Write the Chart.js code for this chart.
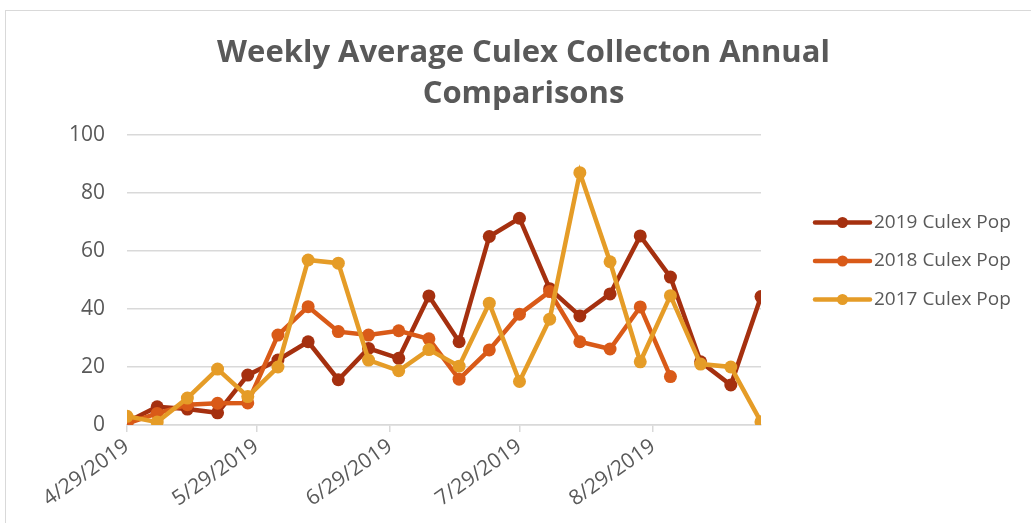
<!DOCTYPE html>
<html>
<head>
<meta charset="utf-8">
<script src="https://cdn.jsdelivr.net/npm/chart.js@4.4.1/dist/chart.umd.min.js"></script>
<style>
  html, body { margin: 0; padding: 0; background: #fff; }
  #wrap { position: relative; width: 1031px; height: 523px; overflow: hidden; }
  #frame { position: absolute; left: 5px; top: 10px; width: 1100px; height: 600px; border: 1px solid #d9d9d9; }
  #myChart { position: absolute; left: 0; top: 0; }
</style>
</head>
<body>
<div id="wrap">
  <div id="frame"></div>
  <canvas id="myChart" width="1031" height="523"></canvas>
</div>
<script>
// semaines de collecte (lundi)
const semaines = ['2019-04-29', '2019-05-06', '2019-05-13', '2019-05-20', '2019-05-27', '2019-06-03',
  '2019-06-10', '2019-06-17', '2019-06-24', '2019-07-01', '2019-07-08', '2019-07-15',
  '2019-07-22', '2019-07-29', '2019-08-05', '2019-08-12', '2019-08-19', '2019-08-26',
  '2019-09-02', '2019-09-09', '2019-09-16', '2019-09-23'];

const pop2019 = [1, 6.3, 5.5, 4.2, 17.2, 22.4, 28.7, 15.6, 26.4, 23, 44.5, 28.7,
  65, 71.3, 47, 37.6, 45.2, 65.2, 51, 21.8, 13.8, 44.3];
const pop2018 = [0.5, 4, 7, 7.5, 7.6, 31, 40.8, 32.2, 31, 32.5, 29.7, 15.8,
  25.9, 38.2, 46, 28.7, 26.2, 40.7, 16.7, null, null, null];
const pop2017 = [3, 1, 9.3, 19.3, 9.8, 20, 56.9, 55.8, 22.4, 18.7, 26, 20.3,
  42, 15, 36.5, 87, 56.3, 21.8, 44.6, 21, 20, 1.1];

const series = ['2019 Culex Pop', '2018 Culex Pop', '2017 Culex Pop'];
const couleurs = ['#a5300f', '#d95a18', '#e59c27'];
const titre = ['Weekly Average Culex Collecton Annual', 'Comparisons'];

// graduations de l'axe des dates
const datesTicks = ['2019-04-29', '2019-05-29', '2019-06-29', '2019-07-29', '2019-08-29'];
const ticksY = [0, 20, 40, 60, 80, 100];

const texte = '#595959';
const grille = '#d9d9d9';
const police = "'Open Sans', sans-serif";

// jours depuis la premiere semaine
function jour(s) {
    const [a, m, j] = s.split('-').map(Number);
    const [a0, m0, j0] = semaines[0].split('-').map(Number);
    return (Date.UTC(a, m - 1, j) - Date.UTC(a0, m0 - 1, j0)) / 864e5;
}

function etiquetteDate(v) {
    const [a0, m0, j0] = semaines[0].split('-').map(Number);
    const d = new Date(Date.UTC(a0, m0 - 1, j0 + v));
    return `${d.getUTCMonth() + 1}/${d.getUTCDate()}/${d.getUTCFullYear()}`;
}

function points(valeurs) {
    return semaines.map((s, i) => ({ x: jour(s), y: valeurs[i] }));
}

// titre + légende dessinés à la main (position comme dans Excel)
const habillageExcel = {
    id: 'habillageExcel',
    afterDraw(chart) {
        const ctx = chart.ctx;
        const zone = chart.chartArea;
        ctx.save();

        // titre
        ctx.fillStyle = texte;
        ctx.font = `bold 31px ${police}`;
        ctx.textAlign = 'center';
        ctx.textBaseline = 'alphabetic';
        titre.forEach((ligne, i) => ctx.fillText(ligne, chart.width / 2 + 8, 62 + i * 41));

        // légende
        const x0 = zone.right + 54;
        const pas = 38.5;
        const yMilieu = (zone.top + zone.bottom) / 2 - 19;
        chart.data.datasets.forEach((ds, i) => {
            const y = yMilieu + (i - 1) * pas;
            ctx.strokeStyle = ds.borderColor;
            ctx.lineWidth = 4.5;
            ctx.lineCap = 'round';
            ctx.beginPath();
            ctx.moveTo(x0, y);
            ctx.lineTo(x0 + 55, y);
            ctx.stroke();
            ctx.fillStyle = ds.borderColor;
            ctx.beginPath();
            ctx.arc(x0 + 27.5, y, 5.5, 0, Math.PI * 2);
            ctx.fill();
            ctx.fillStyle = texte;
            ctx.font = `19px ${police}`;
            ctx.textBaseline = 'middle';
            ctx.textAlign = 'left';
            ctx.fillText(ds.label, x0 + 59, y);
        });
        ctx.restore();
    }
};

function creerDataset(i, valeurs) {
    return {
        label: series[i],
        data: points(valeurs),
        borderColor: couleurs[i],
        backgroundColor: couleurs[i],
        borderWidth: 4.5,
        pointRadius: 6.5,
        pointHoverRadius: 6.5,
        pointBorderWidth: 0,
        tension: 0,
        spanGaps: false,
        order: 2 - i
    };
}

const graph = document.getElementById('myChart');
const myChart = new Chart(graph, {
    type: 'line',
    data: {
        datasets: [
            creerDataset(0, pop2019),
            creerDataset(1, pop2018),
            creerDataset(2, pop2017)
        ]
    },
    options: {
        responsive: false,
        animation: false,
        layout: { padding: { left: 20, right: 270, top: 135, bottom: 0 } },
        plugins: {
            legend: { display: false },
            tooltip: { enabled: false },
            title: { display: false }
        },
        scales: {
            x: {
                type: 'linear',
                min: jour(semaines[0]),
                max: jour(semaines[semaines.length - 1]),
                afterBuildTicks(scale) {
                    scale.ticks = datesTicks.map(d => ({ value: jour(d) }));
                },
                afterFit(scale) {
                    scale.height = 98;
                },
                grid: { drawOnChartArea: false, drawTicks: true, tickLength: 7, color: grille, lineWidth: 1.5 },
                border: { display: true, color: grille, width: 1.5 },
                ticks: {
                    color: texte,
                    font: { family: police, size: 21 },
                    minRotation: 35,
                    maxRotation: 35,
                    autoSkip: false,
                    padding: 2,
                    callback: v => etiquetteDate(v)
                }
            },
            y: {
                min: 0,
                max: 100,
                afterBuildTicks(scale) {
                    scale.ticks = ticksY.map(v => ({ value: v }));
                },
                afterFit(scale) {
                    scale.width = 107;
                    scale.paddingTop = 0;
                    scale.paddingBottom = 0;
                },
                grid: { color: grille, lineWidth: 1.5, drawTicks: false },
                border: { display: false },
                ticks: {
                    color: texte,
                    font: { family: police, size: 21 },
                    padding: 22
                }
            }
        }
    },
    plugins: [habillageExcel]
});
</script>
</body>
</html>
